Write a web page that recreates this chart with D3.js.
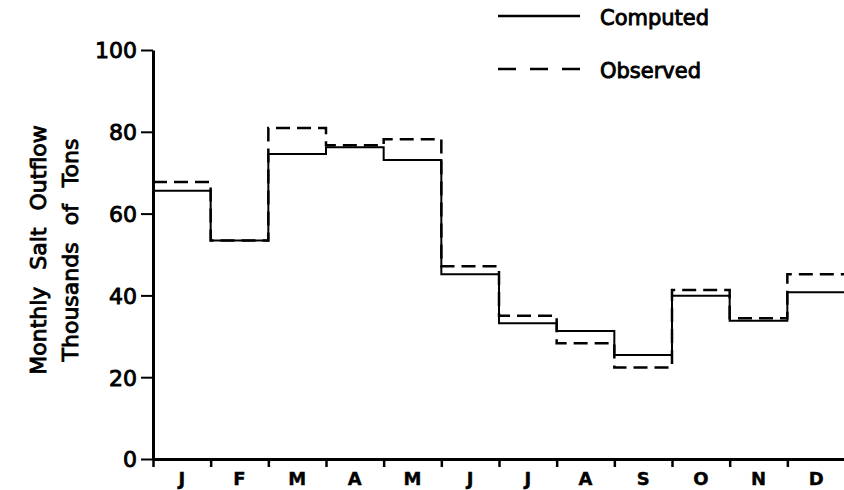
<!DOCTYPE html>
<html>
<head>
<meta charset="utf-8">
<script src="https://cdn.jsdelivr.net/npm/d3@7"></script>
<style>
  body { margin: 0; background: #fff; }
  text { font-family: "DejaVu Sans", sans-serif; fill: #000; stroke: #000; stroke-width: 0.9px; }
</style>
</head>
<body>
<div id="chart"></div>
<script>
// monthly salt outflow, thousands of tons
var months = ["J", "F", "M", "A", "M", "J", "J", "A", "S", "O", "N", "D"];
var computed = [65.6, 53.4, 74.6, 76.2, 73.1, 45.2, 33.2, 31.3, 25.4, 39.9, 33.8, 40.8];
var observed = [67.7, 53.4, 80.9, 76.7, 78.2, 47.1, 35.0, 28.3, 22.4, 41.3, 34.4, 45.2];
var yTicks = [0, 20, 40, 60, 80, 100];

var width = 844,
    height = 490;

var svg = d3.select("#chart").append("svg")
    .attr("width", width)
    .attr("height", height);

var x = d3.scaleLinear().domain([0, 12]).range([153, 845]);
var y = d3.scaleLinear().domain([0, 100]).range([459, 50]);

// step lines, last value carried to the end of December
function stepData(vals) {
    var pts = vals.map(function(v, i) { return [i, v]; });
    pts.push([vals.length, vals[vals.length - 1]]);
    return pts;
}

var line = d3.line()
    .x(d => x(d[0]))
    .y(d => y(d[1]))
    .curve(d3.curveStepAfter);

svg.append("path")
    .attr("d", line(stepData(observed)))
    .attr("fill", "none")
    .attr("stroke", "#000")
    .attr("stroke-width", 2.5)
    .attr("stroke-dasharray", "14,7");

svg.append("path")
    .attr("d", line(stepData(computed)))
    .attr("fill", "none")
    .attr("stroke", "#000")
    .attr("stroke-width", 2);

// y axis
var yAxis = svg.append("g")
    .attr("transform", "translate(" + x(0) + ",0)")
    .call(d3.axisLeft(y).tickValues(yTicks).tickSize(12).tickSizeOuter(0).tickPadding(4));

yAxis.select(".domain").attr("stroke-width", 3);
yAxis.selectAll(".tick line").attr("stroke-width", 2);
yAxis.selectAll(".tick text")
    .style("font-size", "22px")
    .attr("dy", "0.36em");

// x axis, ticks on month boundaries
var xAxis = svg.append("g")
    .attr("transform", "translate(0," + y(0) + ")")
    .call(d3.axisBottom(x).tickValues(d3.range(0, 13)).tickSize(8).tickSizeOuter(0).tickFormat(""));

xAxis.select(".domain").attr("stroke-width", 3);
xAxis.selectAll(".tick line").attr("stroke-width", 2.5);

svg.append("g").selectAll("text")
    .data(months)
    .enter()
    .append("text")
    .attr("x", (d, i) => x(i + 0.5))
    .attr("y", 485)
    .attr("text-anchor", "middle")
    .style("font-size", "18px")
    .style("font-weight", "bold")
    .style("stroke-width", "0.4px")
    .text(d => d);

// y axis title, two lines
var titleLines = ["Monthly Salt Outflow", "Thousands of Tons"];
svg.append("g").selectAll("text")
    .data(titleLines)
    .enter()
    .append("text")
    .attr("transform", (d, i) => "translate(" + (i == 0 ? 46 : 78) + ",250) rotate(-90)")
    .attr("text-anchor", "middle")
    .style("font-size", "22px")
    .style("word-spacing", "10px")
    .text(d => d);

// legend
var legendItems = [
    { label: "Computed", dash: null, y: 16 },
    { label: "Observed", dash: "18,14", y: 69 }
];

var legend = svg.append("g").selectAll("g")
    .data(legendItems)
    .enter()
    .append("g");

legend.append("line")
    .attr("x1", 498)
    .attr("x2", 580)
    .attr("y1", d => d.y)
    .attr("y2", d => d.y)
    .attr("stroke", "#000")
    .attr("stroke-width", 2.5)
    .attr("stroke-dasharray", d => d.dash);

legend.append("text")
    .attr("x", 600)
    .attr("y", d => d.y + 9)
    .style("font-size", "21px")
    .text(d => d.label);
</script>
</body>
</html>
